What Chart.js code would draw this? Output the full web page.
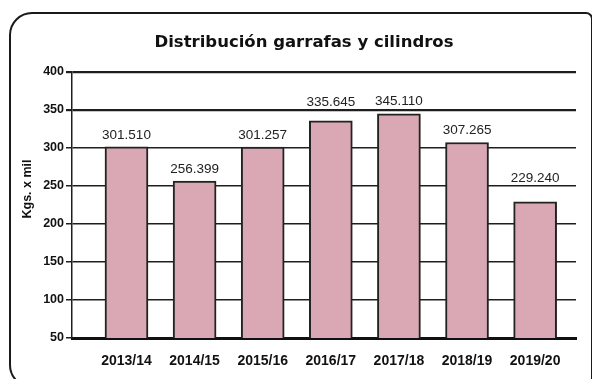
<!DOCTYPE html>
<html>
<head>
<meta charset="utf-8">
<script src="https://cdn.jsdelivr.net/npm/chart.js@4.4.1/dist/chart.umd.min.js"></script>
<style>
  html, body { margin: 0; padding: 0; background: #fff; }
  #wrap { width: 592px; height: 379px; position: relative; }
</style>
</head>
<body>
<div id="wrap"><canvas id="myChart"></canvas></div>
<script>
const chartTitle = 'Distribución garrafas y cilindros';
const yTitle = 'Kgs. x mil';

const seasons = ['2013/14', '2014/15', '2015/16', '2016/17', '2017/18', '2018/19', '2019/20'];
const kgs = [301.510, 256.399, 301.257, 335.645, 345.110, 307.265, 229.240];
const valueLabels = ['301.510', '256.399', '301.257', '335.645', '345.110', '307.265', '229.240'];
const yTicks = [50, 100, 150, 200, 250, 300, 350, 400];

const sans = '"Liberation Sans", Arial, sans-serif';

// frame, headings and value labels drawn straight on the canvas
const decorations = {
    id: 'decorations',
    beforeDraw(chart) {
        const ctx = chart.ctx;
        ctx.save();
        ctx.fillStyle = '#fff';
        ctx.fillRect(0, 0, chart.width, chart.height);
        ctx.beginPath();
        ctx.roundRect(10, 13, 582, 374, [22, 6, 6, 22]);
        ctx.lineWidth = 2;
        ctx.strokeStyle = '#1a1a1a';
        ctx.stroke();
        ctx.restore();
    },
    afterDraw(chart) {
        const ctx = chart.ctx;
        ctx.save();
        ctx.fillStyle = '#111';
        ctx.textAlign = 'center';
        ctx.textBaseline = 'middle';
        ctx.font = 'bold 16.5px "DejaVu Sans", Verdana, sans-serif';
        ctx.fillText(chartTitle, 304, 43);

        ctx.save();
        ctx.translate(28, 189);
        ctx.rotate(-Math.PI / 2);
        ctx.font = 'bold 12.5px ' + sans;
        ctx.fillText(yTitle, 0, 0);
        ctx.restore();

        // value above each bar, lifted clear of any gridline it would sit on
        const yScale = chart.scales.y;
        const lines = yTicks.map(v => yScale.getPixelForValue(v));
        ctx.font = '13.5px ' + sans;
        ctx.fillStyle = '#222';
        chart.getDatasetMeta(0).data.forEach((bar, i) => {
            let cy = bar.y - 12;
            lines.forEach(ly => {
                if (Math.abs(ly - cy) < 8) cy = ly - 8;
            });
            ctx.fillText(valueLabels[i], bar.x, cy);
        });
        ctx.restore();
    }
};

new Chart(document.getElementById('myChart'), {
    type: 'bar',
    data: {
        datasets: [{
            data: kgs.map((v, i) => ({ x: i, y: v })),
            backgroundColor: '#d9a8b4',
            borderColor: '#222',
            borderWidth: 2,
            barThickness: 43
        }]
    },
    options: {
        responsive: true,
        maintainAspectRatio: false,
        animation: false,
        devicePixelRatio: 1,
        layout: { padding: { top: 72, left: 0, right: 16, bottom: 0 } },
        plugins: {
            legend: { display: false },
            tooltip: { enabled: false }
        },
        scales: {
            x: {
                type: 'linear',
                offset: false,
                min: -0.8,
                max: 6.6,
                grid: { display: false, offset: false },
                border: { display: true, color: '#111', width: 3 },
                afterBuildTicks(scale) {
                    scale.ticks = seasons.map((s, i) => ({ value: i }));
                },
                afterFit(scale) { scale.height = 41; },
                ticks: {
                    autoSkip: false,
                    maxRotation: 0,
                    padding: 7,
                    color: '#111',
                    font: { family: sans, size: 14, weight: 'bold' },
                    callback: (v) => seasons[v]
                }
            },
            y: {
                min: 50,
                max: 400,
                afterBuildTicks(scale) {
                    scale.ticks = yTicks.map(v => ({ value: v }));
                },
                afterFit(scale) { scale.width = 72; },
                grid: {
                    color: '#1e1e1e',
                    lineWidth: (c) => (c.tick && c.tick.value >= 350) ? 2.2 : 1.5,
                    tickLength: 6
                },
                border: { display: true, color: '#1e1e1e', width: 1.5 },
                ticks: {
                    padding: 2,
                    color: '#111',
                    font: { family: sans, size: 12.5, weight: 'bold' }
                }
            }
        }
    },
    plugins: [decorations]
});
</script>
</body>
</html>
